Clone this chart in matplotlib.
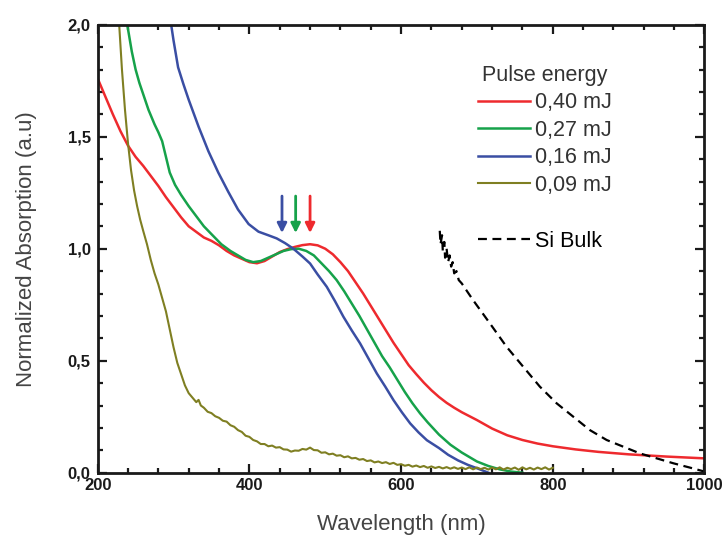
import matplotlib
matplotlib.use("Agg")
import matplotlib.pyplot as plt
from matplotlib.ticker import MultipleLocator, FuncFormatter

plt.rcParams['font.family'] = ['Liberation Sans', 'DejaVu Sans']

# 0,40 mJ
wl_red = [200, 210, 220, 230, 240, 250, 260, 270, 280, 290, 300, 310, 320, 330, 340, 350,
          360, 370, 380, 390, 400, 410, 420, 430, 440, 450, 460, 470, 480, 490, 500, 510,
          520, 530, 540, 550, 560, 570, 580, 590, 600, 610, 620, 630, 640, 650, 660, 670,
          680, 700, 720, 740, 760, 780, 800, 830, 860, 900, 950, 1000]
ab_red = [1.76, 1.68, 1.60, 1.525, 1.46, 1.41, 1.37, 1.325, 1.28, 1.23, 1.185, 1.14, 1.10,
          1.075, 1.05, 1.035, 1.015, 0.99, 0.97, 0.955, 0.94, 0.935, 0.945, 0.965, 0.985,
          0.998, 1.008, 1.016, 1.02, 1.015, 1.0, 0.975, 0.94, 0.90, 0.85, 0.80, 0.745, 0.69,
          0.635, 0.58, 0.53, 0.48, 0.44, 0.402, 0.368, 0.338, 0.312, 0.29, 0.27, 0.235, 0.197,
          0.167, 0.146, 0.13, 0.118, 0.104, 0.093, 0.082, 0.072, 0.064]

# 0,27 mJ
wl_green = [238, 245, 250, 255, 260, 267, 275, 280, 285, 290, 295, 302, 310, 320, 330, 340,
            350, 363, 375, 385, 395, 405, 415, 425, 435, 445, 455, 465, 475, 485, 495, 505,
            515, 525, 535, 545, 555, 565, 575, 585, 595, 605, 615, 625, 635, 650, 665, 680,
            700, 715, 730, 745, 760]
ab_green = [2.02, 1.88, 1.80, 1.74, 1.69, 1.62, 1.555, 1.52, 1.48, 1.41, 1.34, 1.285, 1.24,
            1.19, 1.145, 1.10, 1.065, 1.02, 0.99, 0.97, 0.95, 0.94, 0.945, 0.96, 0.975,
            0.99, 0.998, 1.0, 0.99, 0.97, 0.935, 0.90, 0.86, 0.81, 0.755, 0.70, 0.64, 0.58,
            0.52, 0.47, 0.415, 0.36, 0.31, 0.265, 0.225, 0.17, 0.125, 0.09, 0.05, 0.03,
            0.015, 0.005, 0.0]

# 0,16 mJ
wl_blue = [296, 300, 306, 313, 320, 333, 346, 359, 372, 385, 399, 412, 425, 436, 447, 458,
           470, 480, 490, 502, 513, 524, 535, 546, 557, 568, 579, 590, 601, 612, 623, 634,
           650, 662, 675, 688, 700, 715]
ab_blue = [2.02, 1.93, 1.81, 1.735, 1.665, 1.545, 1.435, 1.34, 1.255, 1.175, 1.11, 1.076,
           1.06, 1.046, 1.025, 1.0, 0.965, 0.934, 0.885, 0.83, 0.765, 0.696, 0.635, 0.577,
           0.51, 0.443, 0.385, 0.324, 0.27, 0.22, 0.18, 0.145, 0.11, 0.08, 0.055, 0.035,
           0.02, 0.0]

# 0,09 mJ (noisy trace)
wl_olive = [228, 232, 236, 240, 244, 248, 252, 256, 260, 265, 270, 275, 280, 285, 290, 295,
            300, 305, 310, 315, 320, 325, 330, 333, 336, 340, 345, 350, 355, 360, 365, 370,
            375, 380, 385, 390, 395, 400, 405, 410, 415, 420, 425, 430, 435, 440, 445, 450,
            455, 460, 465, 470, 475, 480, 485, 490, 495, 500, 505, 510, 515, 520, 525, 530,
            535, 540, 545, 550, 555, 560, 565, 570, 575, 580, 585, 590, 595, 600, 605, 610,
            615, 620, 625, 630, 635, 640, 645, 650, 655, 660, 665, 670, 675, 680, 685, 690,
            695, 700, 705, 710, 715, 720, 725, 730, 735, 740, 745, 750, 755, 760, 765, 770,
            775, 780, 785, 790, 795, 800]
ab_olive = [2.02, 1.80, 1.62, 1.47, 1.35, 1.26, 1.19, 1.13, 1.08, 1.02, 0.95, 0.89, 0.84,
            0.78, 0.72, 0.64, 0.56, 0.49, 0.44, 0.39, 0.355, 0.335, 0.315, 0.325, 0.30,
            0.29, 0.272, 0.266, 0.252, 0.245, 0.232, 0.228, 0.212, 0.205, 0.19, 0.182, 0.165,
            0.16, 0.146, 0.14, 0.128, 0.128, 0.118, 0.121, 0.112, 0.114, 0.104, 0.103, 0.094,
            0.099, 0.098, 0.106, 0.103, 0.112, 0.101, 0.1, 0.089, 0.091, 0.082, 0.085, 0.076,
            0.078, 0.069, 0.073, 0.064, 0.066, 0.058, 0.061, 0.052, 0.055, 0.046, 0.05, 0.043,
            0.047, 0.039, 0.044, 0.035, 0.038, 0.031, 0.035, 0.027, 0.032, 0.025, 0.03, 0.022,
            0.028, 0.021, 0.026, 0.019, 0.025, 0.018, 0.024, 0.017, 0.023, 0.016, 0.024, 0.015,
            0.023, 0.016, 0.022, 0.014, 0.023, 0.015, 0.024, 0.014, 0.022, 0.016, 0.023, 0.013,
            0.024, 0.015, 0.022, 0.014, 0.023, 0.016, 0.024, 0.014, 0.022]

# Si Bulk
wl_si = [651, 652, 654, 655, 657, 658, 660, 662, 664, 666, 668, 670, 673, 676, 680, 695,
         717, 739, 761, 783, 805, 827, 849, 871, 893, 915, 937, 959, 985, 1000]
ab_si = [1.08, 1.02, 1.06, 0.99, 1.03, 0.96, 1.0, 0.94, 0.97, 0.92, 0.94, 0.89, 0.9, 0.86,
         0.845, 0.77, 0.667, 0.5625, 0.473, 0.384, 0.31, 0.25, 0.19, 0.146, 0.116, 0.086,
         0.064, 0.042, 0.019, 0.005]

labels = ['0,40 mJ', '0,27 mJ', '0,16 mJ', '0,09 mJ']
colors = ['#ee2a2e', '#16a24a', '#3a4ea3', '#7f7f22']
peak_wl = [480, 461, 443]   # arrows: red, green, blue

fig = plt.figure(figsize=(7.23, 5.36), dpi=100)
ax = fig.add_axes([0.1351, 0.1181, 0.8393, 0.8358])

series = [(wl_red, ab_red), (wl_green, ab_green), (wl_blue, ab_blue), (wl_olive, ab_olive)]
widths = [1.8, 1.8, 1.8, 1.5]
handles = []
for (x, y), c, lab, w in zip(series, colors, labels, widths):
    h, = ax.plot(x, y, color=c, lw=w, label=lab)
    handles.append(h)

si, = ax.plot(wl_si, ab_si, color='black', lw=1.6, dashes=(4, 2.5), label='Si Bulk')

for wl, c in zip(peak_wl, colors[:3]):
    ax.annotate('', xy=(wl, 1.07), xytext=(wl, 1.235),
                arrowprops=dict(arrowstyle='-|>', color=c, lw=2, mutation_scale=14,
                                shrinkA=0, shrinkB=0))

ax.set_xlim(200, 1000)
ax.set_ylim(0, 2.0)
ax.xaxis.set_major_locator(MultipleLocator(200))
ax.xaxis.set_minor_locator(MultipleLocator(40))
ax.yaxis.set_major_locator(MultipleLocator(0.5))
ax.yaxis.set_minor_locator(MultipleLocator(0.1))
ax.yaxis.set_major_formatter(FuncFormatter(lambda v, p: ('%.1f' % v).replace('.', ',')))

ax.tick_params(which='both', direction='in', top=True, right=True, width=1.6, colors='#1a1a1a')
ax.tick_params(which='major', length=6.5)
ax.tick_params(which='minor', length=3.6)
ax.tick_params(axis='x', which='major', pad=4)
ax.tick_params(axis='y', which='major', pad=5)
for lab in ax.get_xticklabels() + ax.get_yticklabels():
    lab.set_fontweight('bold')
    lab.set_fontsize(12)
for s in ax.spines.values():
    s.set_linewidth(2.0)
    s.set_color('#1a1a1a')

ax.set_xlabel('Wavelength (nm)', fontsize=16, color='#444444', labelpad=15)
ax.set_ylabel('Normalized Absorption (a.u)', fontsize=16, color='#444444', labelpad=22)

leg1 = ax.legend(handles=handles, title='Pulse energy', loc='upper left',
                 bbox_to_anchor=(0.627, 0.91), frameon=False, fontsize=15.5,
                 title_fontsize=15.5, handlelength=2.4, handletextpad=0.23,
                 labelspacing=0.3, borderpad=0, borderaxespad=0)
for t in leg1.get_texts():
    t.set_color('#333333')
leg1.get_title().set_color('#333333')
ax.add_artist(leg1)
ax.legend(handles=[si], loc='upper left', bbox_to_anchor=(0.627, 0.54), frameon=False,
          fontsize=15.5, handlelength=2.4, handletextpad=0.23, borderpad=0,
          borderaxespad=0)

fig.savefig('out.png', dpi=100)
